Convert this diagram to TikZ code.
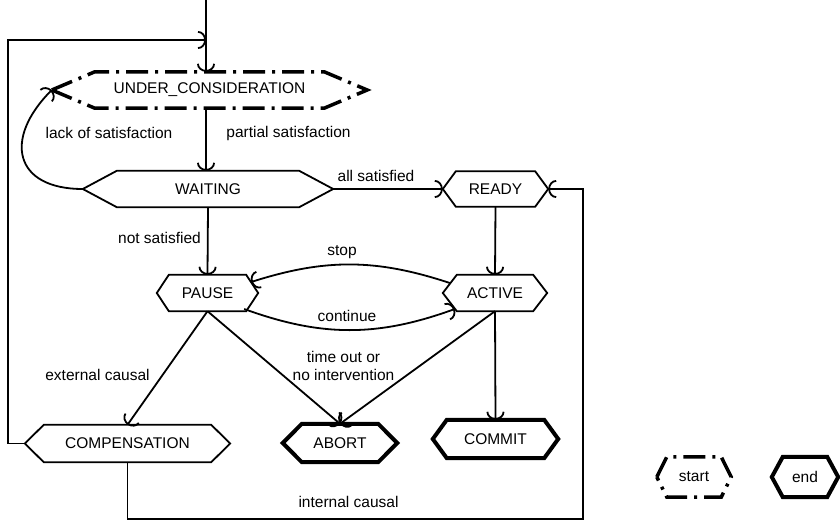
\documentclass[tikz,border=0pt]{standalone}
\usepackage{fontspec}
\setmainfont{Liberation Sans}
\usetikzlibrary{arrows.meta}

% outline of an elongated hexagon drawn on the border of a (borderless) node
\newcommand\hexoutline[3]{%
  \draw[#3] (#1.west) -- ([xshift=#2]#1.north west) -- ([xshift=-#2]#1.north east)
    -- (#1.east) -- ([xshift=-#2]#1.south east) -- ([xshift=#2]#1.south west) -- cycle;}

\begin{document}
\begin{tikzpicture}[x=1pt,y=1pt,
  every node/.style={font=\fontsize{15.5}{18}\selectfont},
  state/.style={inner sep=0pt, minimum height=36pt},
  plainline/.style={line width=1.8pt, line join=miter},
  finalline/.style={line width=4pt, line join=miter},
  dashdotline/.style={line width=3.5pt, line join=miter,
    dash pattern=on 22pt off 7pt on 3pt off 7pt},
  flow/.style={line width=1.8pt, -{Arc Barb[length=8pt,width=18pt]}},
  lbl/.style={inner sep=0pt, align=center}]
\useasboundingbox (0,0) rectangle (840,522);

% states
\node[state, minimum width=315pt] (UC) at (209.5,432) {UNDER\_CONSIDERATION};
\node[state, minimum width=250pt] (WAITING) at (208,333) {WAITING};
\node[state, minimum width=105pt, minimum height=35pt] (READY) at (495.5,333) {READY};
\node[state, minimum width=101pt] (PAUSE) at (207.5,229) {PAUSE};
\node[state, minimum width=104pt] (ACTIVE) at (495,229) {ACTIVE};
\node[state, minimum width=205pt, minimum height=37pt] (COMP) at (127.5,78.5) {COMPENSATION};
\node[state, minimum width=114pt, minimum height=38pt] (ABORT) at (340,79) {ABORT};
\node[state, minimum width=125pt, minimum height=38pt] (COMMIT) at (495.5,83) {COMMIT};
\node[state, minimum width=74pt, minimum height=40pt] (START) at (694,45) {start};
\node[state, minimum width=66pt, minimum height=40pt] (END) at (805,45) {end};

\hexoutline{UC}{43pt}{dashdotline}
\hexoutline{WAITING}{34pt}{plainline}
\hexoutline{READY}{13pt}{plainline}
\hexoutline{PAUSE}{12pt}{plainline}
\hexoutline{ACTIVE}{14pt}{plainline}
\hexoutline{COMP}{19pt}{plainline}
\hexoutline{ABORT}{19pt}{finalline}
\hexoutline{COMMIT}{14pt}{finalline}
\hexoutline{START}{10pt}{dashdotline}
\hexoutline{END}{11pt}{finalline}

% free ends of the entry line and the two loops
\coordinate (entry) at (206,522);
\coordinate (merge) at (206,482);
\coordinate (leftloop) at (8,78.5);
\coordinate (rightloop) at (583,3);

% connectors
\draw[flow] (entry) -- (entry |- UC.north);
\draw[flow] (COMP.west) -- (leftloop) |- (merge);
\draw[flow] (entry |- UC.south) -- (entry |- WAITING.north);
\draw[flow] (WAITING.west) to[out=180,in=225,looseness=1.7] (UC.west);
\draw[flow] (WAITING.east) -- (READY.west);
\draw[flow] (READY.south) -- (ACTIVE.north);
\draw[flow] (WAITING.south) -- (PAUSE.north);
\draw[flow] ([shift={(7pt,10pt)}]ACTIVE.west) to[bend right=18] ([shift={(-7pt,11pt)}]PAUSE.east);
\draw[flow] ([shift={(-14pt,-16pt)}]PAUSE.east) to[bend right=20] ([shift={(12pt,-16pt)}]ACTIVE.west);
\draw[flow] (PAUSE.south) -- (COMP.north);
\draw[flow] (PAUSE.south) -- (ABORT.north);
\draw[flow] (ACTIVE.south) -- (ABORT.north);
\draw[flow] (ACTIVE.south) -- (COMMIT.north);
\draw[flow] (COMP.south) |- (rightloop) |- (READY.east);

% connector labels
\node[lbl] (lPartial) at (288.5,389) {partial satisfaction};
\node[lbl] (lLack) at (109,389) {lack of satisfaction};
\node[lbl] (lAll) at (376,346) {all satisfied};
\node[lbl] (lNot) at (159.5,284) {not satisfied};
\node[lbl] (lStop) at (342,270) {stop};
\node[lbl] (lCont) at (347,206) {continue};
\node[lbl] (lExt) at (97.5,147) {external causal};
\node[lbl] (lTime) at (343.5,156) {time out or\\no intervention};
\node[lbl] (lInt) at (348.5,20) {internal causal};
\end{tikzpicture}
\end{document}
